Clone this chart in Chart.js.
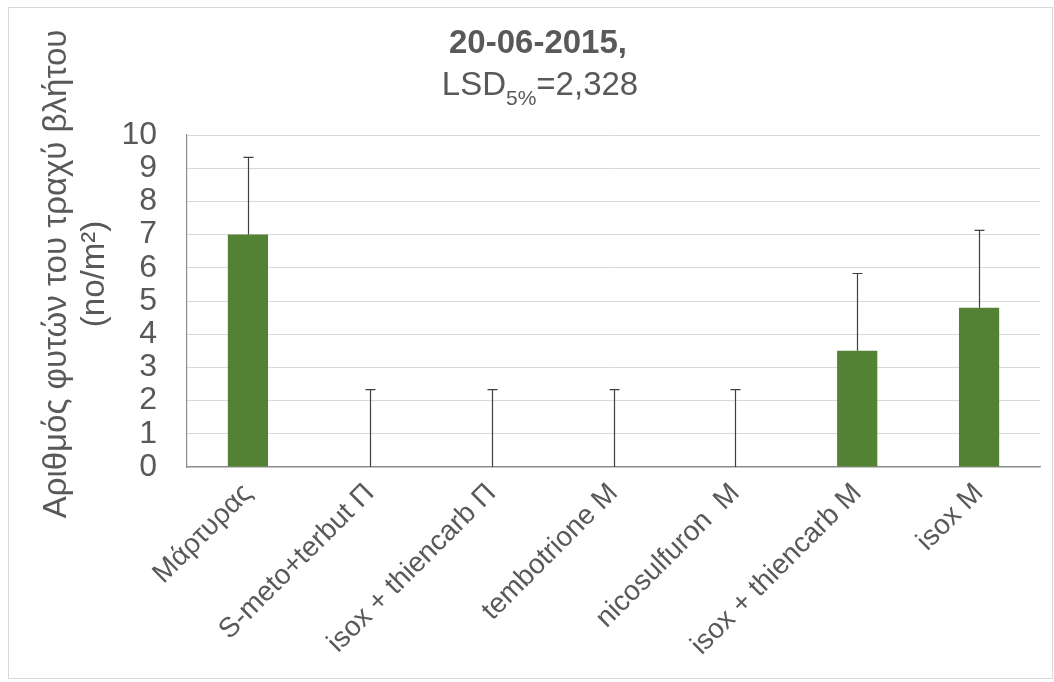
<!DOCTYPE html>
<html>
<head>
<meta charset="utf-8">
<script src="https://cdn.jsdelivr.net/npm/chart.js@4.4.1/dist/chart.umd.min.js"></script>
<style>
  body { margin: 0; background: #fff; }
  #wrap { position: relative; width: 1054px; height: 682px; }
  #frame { position: absolute; left: 8px; top: 7px; width: 1043px; height: 670px; border: 1px solid #d9d9d9; }
  #myChart { position: absolute; left: 0; top: 0; }
</style>
</head>
<body>
<div id="wrap">
  <div id="frame"></div>
  <canvas id="myChart" width="1054" height="682"></canvas>
</div>
<script>
// treatments
const labels = ['Μάρτυρας', 'S-meto+terbut Π', 'isox + thiencarb Π', 'tembotrione M', 'nicosulfuron  M', 'isox + thiencarb M', 'isox M'];
// plants per m2
const counts = [7, 0, 0, 0, 0, 3.5, 4.8];
// LSD 5% drawn as upper error bar
const lsd = 2.328;
const errUp = [lsd, lsd, lsd, lsd, lsd, lsd, lsd];
const yTicks = [0, 1, 2, 3, 4, 5, 6, 7, 8, 9, 10];

const FONT = '"Liberation Sans", Arial, sans-serif';
const GREY = '#595959';

// error bars (upper side only, small cap)
const errorBars = {
  id: 'errorBars',
  afterDatasetsDraw(chart) {
    const ctx = chart.ctx;
    const y = chart.scales.y;
    const meta = chart.getDatasetMeta(0);
    ctx.save();
    ctx.strokeStyle = '#404040';
    ctx.lineWidth = 1.2;
    meta.data.forEach((bar, i) => {
      const x = Math.round(bar.x) + 0.5;
      const y0 = y.getPixelForValue(counts[i]);
      const y1 = y.getPixelForValue(counts[i] + errUp[i]);
      ctx.beginPath();
      ctx.moveTo(x, y0);
      ctx.lineTo(x, y1);
      ctx.moveTo(x - 5, y1);
      ctx.lineTo(x + 5, y1);
      ctx.stroke();
    });
    ctx.restore();
  }
};

// chart title with subscript + two-line y axis title
const texts = {
  id: 'texts',
  afterDraw(chart) {
    const ctx = chart.ctx;
    ctx.save();
    ctx.fillStyle = GREY;
    ctx.textBaseline = 'alphabetic';

    ctx.font = 'bold 33px ' + FONT;
    ctx.textAlign = 'center';
    ctx.fillText('20-06-2015,', 538, 53);

    // LSD5%=2,328
    const big = '33px ' + FONT, small = '21px ' + FONT;
    ctx.font = big;
    const w1 = ctx.measureText('LSD').width;
    const w3 = ctx.measureText('=2,328').width;
    ctx.font = small;
    const w2 = ctx.measureText('5%').width;
    let x = 540 - (w1 + w2 + w3) / 2;
    ctx.textAlign = 'left';
    ctx.font = big;
    ctx.fillText('LSD', x, 95);
    x += w1;
    ctx.font = small;
    ctx.fillText('5%', x, 105);
    x += w2;
    ctx.font = big;
    ctx.fillText('=2,328', x, 95);

    // y title
    ctx.translate(0, 274);
    ctx.rotate(-Math.PI / 2);
    ctx.textAlign = 'center';
    ctx.font = '33px ' + FONT;
    ctx.fillText('Αριθμός φυτών του τραχύ βλήτου', 0, 66);
    ctx.fillText('(no/m²)', 0, 104);
    ctx.restore();
  }
};

const ctx = document.getElementById('myChart').getContext('2d');

const config = {
  type: 'bar',
  data: {
    labels: labels,
    datasets: [{
      data: counts,
      backgroundColor: '#548235',
      barPercentage: 0.33,
      categoryPercentage: 1
    }]
  },
  options: {
    responsive: false,
    animation: false,
    layout: { padding: { top: 135, right: 14, left: 0, bottom: 0 } },
    plugins: {
      legend: { display: false },
      tooltip: { enabled: false }
    },
    scales: {
      x: {
        grid: { display: false, drawTicks: false },
        border: { color: '#8c8c8c', width: 1.2 },
        ticks: {
          color: GREY,
          font: { family: FONT, size: 28 },
          maxRotation: 45,
          minRotation: 45,
          padding: 10
        },
        afterFit(scale) { scale.height = 215; }
      },
      y: {
        min: 0,
        max: 10,
        afterBuildTicks(scale) { scale.ticks = yTicks.map(v => ({ value: v })); },
        grid: { color: '#d9d9d9', drawTicks: false },
        border: { color: '#8c8c8c', width: 1.2 },
        ticks: {
          color: GREY,
          font: { family: FONT, size: 32 },
          padding: 30,
          autoSkip: false
        },
        afterFit(scale) { scale.width = 187; }
      }
    }
  },
  plugins: [errorBars, texts]
};

const myChart = new Chart(ctx, config);
</script>
</body>
</html>
